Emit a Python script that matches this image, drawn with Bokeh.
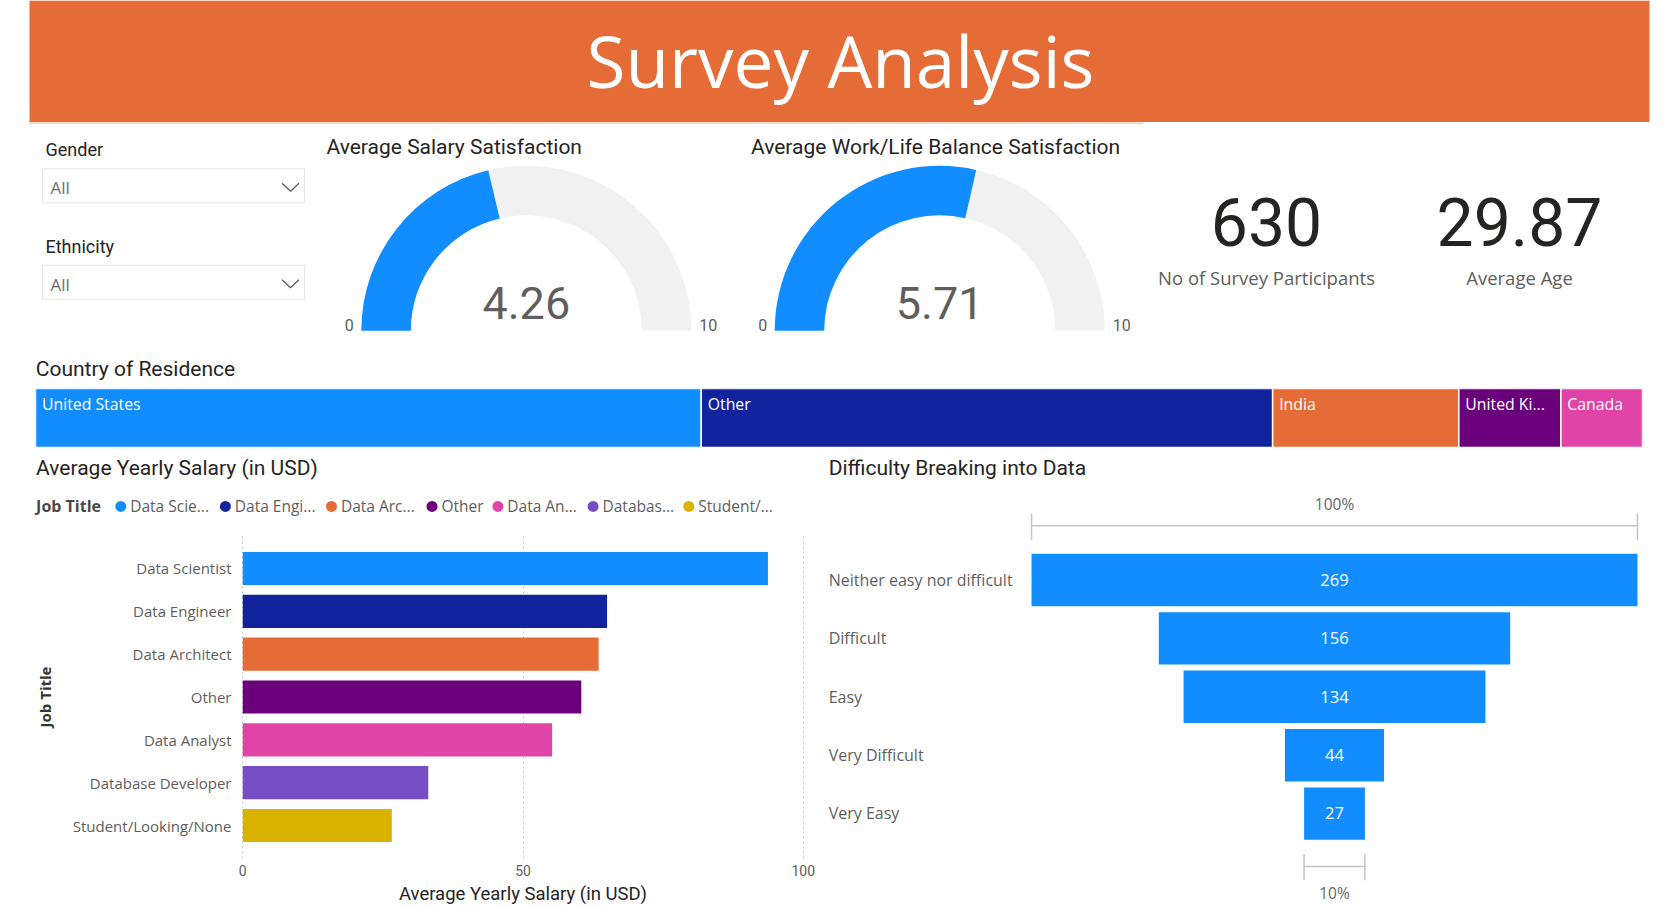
import math

from bokeh.core.properties import value
from bokeh.embed import file_html
from bokeh.layouts import column, row
from bokeh.models import FactorRange, Range1d
from bokeh.plotting import figure
from bokeh.resources import INLINE

# ---------------------------------------------------------------- data
slicer_names = ["Gender", "Ethnicity"]
slicer_selection = ["All", "All"]

gauge_titles = ["Average Salary Satisfaction", "Average Work/Life Balance Satisfaction"]
gauge_values = [4.26, 5.71]
gauge_min, gauge_max = 0, 10

kpi_labels = ["No of Survey Participants", "Average Age"]
kpi_values = [630, 29.87]
kpi_formats = ["{:.0f}", "{:.2f}"]

countries = ["United States", "Other", "India", "United Kingdom", "Canada"]
country_counts = [261, 224, 73, 40, 32]
country_tile_labels = ["United States", "Other", "India", "United Ki...", "Canada"]

job_titles = ["Data Scientist", "Data Engineer", "Data Architect", "Other",
              "Data Analyst", "Database Developer", "Student/Looking/None"]
avg_salary = [93.7, 65.0, 63.5, 60.4, 55.2, 33.1, 26.6]
job_legend_labels = ["Data Scie...", "Data Engi...", "Data Arc...", "Other",
                     "Data An...", "Databas...", "Student/..."]
salary_ticks = [0, 50, 100]

difficulty = ["Neither easy nor difficult", "Difficult", "Easy", "Very Difficult", "Very Easy"]
difficulty_counts = [269, 156, 134, 44, 27]

# ---------------------------------------------------------------- styles
BLUE, NAVY, ORANGE, PURPLE, PINK, VIOLET, GOLD = (
    "#118DFF", "#12239E", "#E66C37", "#6B007B", "#E044A7", "#744EC2", "#D9B300")
PALETTE = [BLUE, NAVY, ORANGE, PURPLE, PINK, VIOLET, GOLD]
GAUGE_BG = "#F1F1F1"
DARK = "#252423"
GREY = "#605E5C"
HEAD_FONT = "Roboto"
BODY_FONT = "Open Sans"
TITLE_SIZE = 21
BASE_SHIFT = 0.37   # lifts glyph text so that y is the visual baseline

W = 1675


def lift(size):
    return -BASE_SHIFT * size


def canvas(w, h, y_down=True, **kw):
    p = figure(width=w, height=h, output_backend="svg", toolbar_location=None,
               x_range=Range1d(0, w),
               y_range=Range1d(h, 0) if y_down else Range1d(0, h),
               x_axis_location=None, y_axis_location=None,
               min_border=0, outline_line_color=None,
               background_fill_color="white", border_fill_color="white", **kw)
    p.grid.visible = False
    return p


def label(p, x, y, s, size, color, font=HEAD_FONT, align="left", style="normal"):
    p.text(x=[x], y=[y], text=[s], text_font=value(font), text_font_size=f"{size}px",
           text_color=color, text_align=align, text_baseline="alphabetic",
           text_font_style=style, y_offset=lift(size))


# ---------------------------------------------------------------- banner
header = canvas(W, 124)
header.quad(left=29, right=1649, top=0, bottom=121.5, fill_color=ORANGE, line_color=None)
header.line(x=[29, 1143], y=[122.8, 122.8], line_color="#F6D6C7", line_width=2)
label(header, 840, 86, "Survey Analysis", 71, "white", font=BODY_FONT, align="center")

# ---------------------------------------------------------------- slicers
TOP = 124
slic = canvas(310, 221)
for i, (name, sel) in enumerate(zip(slicer_names, slicer_selection)):
    dy = i * 96.5
    label(slic, 45, 156 - TOP + dy, name, 18, DARK)
    slic.quad(left=42, right=304, top=168.3 - TOP + dy, bottom=202.3 - TOP + dy,
              fill_color="white", line_color="#E6E6E6", line_width=1)
    label(slic, 50, 193.4 - TOP + dy, sel, 17, "#6E6E6E", font=BODY_FONT)
    cy = 186.7 - TOP + dy
    slic.line(x=[281.5, 290, 298.5], y=[cy - 4, cy + 4, cy - 4],
              line_color=GREY, line_width=1.3)


# ---------------------------------------------------------------- gauges
def gauge(width, cx, title, val, title_x):
    p = canvas(width, 221, y_down=False)
    cy, r_in, r_out = 14.7, 115.5, 165
    frac = (val - gauge_min) / (gauge_max - gauge_min)
    split = math.pi * (1 - frac)
    p.annular_wedge(x=cx, y=cy, inner_radius=r_in, outer_radius=r_out,
                    start_angle=0, end_angle=split, fill_color=GAUGE_BG, line_color=None)
    p.annular_wedge(x=cx, y=cy, inner_radius=r_in, outer_radius=r_out,
                    start_angle=split, end_angle=math.pi, fill_color=BLUE, line_color=None)
    label(p, title_x, 190.7, title, TITLE_SIZE, DARK)
    label(p, cx, 25.7, f"{val:.2f}", 45, GREY, align="center")
    label(p, cx - r_out - 12, 14.3, f"{gauge_min}", 16, GREY, align="center")
    label(p, cx + r_out + 17, 14.3, f"{gauge_max}", 16, GREY, align="center")
    return p


g1 = gauge(410, 215.8, gauge_titles[0], gauge_values[0], 16)
g2 = gauge(420, 219.2, gauge_titles[1], gauge_values[1], 30.5)

# ---------------------------------------------------------------- KPI cards
kpi = canvas(535, 221)
for cx, lab, v, fmt in zip([126, 379], kpi_labels, kpi_values, kpi_formats):
    label(kpi, cx, 122, fmt.format(v), 66, DARK, align="center")
    label(kpi, cx, 160, lab, 18.5, GREY, font=BODY_FONT, align="center")

# ---------------------------------------------------------------- country tiles
country_title = canvas(W, 43)
label(country_title, 35.3, 31, "Country of Residence", TITLE_SIZE, DARK)

total = sum(country_counts)
lefts, rights, acc = [], [], 0
for c in country_counts:
    lefts.append(acc)
    acc += c
    rights.append(acc)

tiles = figure(width=W, height=59, output_backend="svg", toolbar_location=None,
               x_range=Range1d(0, total), y_range=Range1d(0, 1),
               x_axis_location=None, y_axis_location=None, outline_line_color=None,
               min_border_left=35, min_border_right=33, min_border_top=0, min_border_bottom=0)
tiles.grid.visible = False
tiles.hbar(y=0.5, height=1, left=lefts, right=rights, fill_color=PALETTE[:len(countries)],
           line_color="white", line_width=1.5)
tiles.text(x=lefts, y=1, text=country_tile_labels, x_offset=6.5, y_offset=21.5 + lift(15.8),
           text_font=value(BODY_FONT), text_font_size="15.8px", text_color="white",
           text_baseline="alphabetic")

# ---------------------------------------------------------------- salary chart
sal_head = canvas(815, 83)
label(sal_head, 35.6, 28.7, "Average Yearly Salary (in USD)", TITLE_SIZE, DARK)
label(sal_head, 35.6, 64.7, "Job Title", 16, "#4A4846", font=BODY_FONT, style="bold")
legend_dot_x = [120.3, 224.9, 331, 431.5, 497.4, 592.6, 688.3]
sal_head.scatter(x=legend_dot_x, y=[58.9] * len(job_titles), size=11,
                 marker="circle", color=PALETTE, line_color=None)
sal_head.text(x=[x + 9.4 for x in legend_dot_x], y=[64.7] * len(job_titles),
              text=job_legend_labels, text_font=value(BODY_FONT), text_font_size="15.5px",
              text_color=GREY, text_baseline="alphabetic", y_offset=lift(15.5))

# x range runs a hair past 0 and 100 so the end gridlines are not clipped
sal = figure(width=815, height=377, output_backend="svg", toolbar_location=None,
             x_range=Range1d(-0.4, 100.4),
             y_range=FactorRange(factors=job_titles[::-1], range_padding=0.54 / 7),
             min_border_left=240, min_border_right=10, min_border_top=5,
             min_border_bottom=47, outline_line_color=None)
sal.hbar(y=job_titles, left=0, right=avg_salary, height=0.773,
         fill_color=PALETTE, line_color=None)
sal.xaxis.ticker = salary_ticks
sal.ygrid.grid_line_color = None
sal.xgrid.grid_line_color = "#C8C6C4"
sal.xgrid.grid_line_dash = "2 3"
sal.xgrid.level = "underlay"
for ax in (sal.xaxis, sal.yaxis):
    ax.axis_line_color = None
    ax.major_tick_line_color = None
    ax.minor_tick_line_color = None
    ax.major_tick_out = 0
    ax.major_tick_in = 0
    ax.major_label_text_color = GREY
sal.xaxis.major_label_text_font = HEAD_FONT
sal.xaxis.major_label_text_font_size = "14px"
sal.xaxis.major_label_standoff = 6
sal.xaxis.axis_label = "Average Yearly Salary (in USD)"
sal.xaxis.axis_label_text_font = HEAD_FONT
sal.xaxis.axis_label_text_font_size = "18.5px"
sal.xaxis.axis_label_text_font_style = "normal"
sal.xaxis.axis_label_text_color = DARK
sal.xaxis.axis_label_standoff = 4
sal.yaxis.major_label_text_font = BODY_FONT
sal.yaxis.major_label_text_font_size = "15px"
sal.yaxis.major_label_standoff = 9
sal.yaxis.axis_label = "Job Title"
sal.yaxis.axis_label_text_font = BODY_FONT
sal.yaxis.axis_label_text_font_size = "15px"
sal.yaxis.axis_label_text_font_style = "bold"
sal.yaxis.axis_label_text_color = "#333333"
sal.yaxis.axis_label_standoff = 15

# ---------------------------------------------------------------- funnel
fun_head = canvas(860, 40)
label(fun_head, 13.2, 28.7, "Difficulty Breaking into Data", TITLE_SIZE, DARK)

rows = list(range(len(difficulty)))
fun_y = Range1d(5.608, -1.584)

fun_lab = figure(width=213, height=420, output_backend="svg", toolbar_location=None,
                 x_range=Range1d(0, 213), y_range=fun_y,
                 x_axis_location=None, y_axis_location=None, outline_line_color=None,
                 min_border=0)
fun_lab.grid.visible = False
fun_lab.text(x=[13.2] * len(difficulty), y=rows, text=difficulty, y_offset=5.7 + lift(16),
             text_font=value(BODY_FONT), text_font_size="16px", text_color=GREY,
             text_baseline="alphabetic")

top = max(difficulty_counts)
low = min(difficulty_counts)
fun = figure(width=647, height=420, output_backend="svg", toolbar_location=None,
             x_range=Range1d(-0.505 * top, 0.505 * top), y_range=fun_y,
             x_axis_location=None, y_axis_location=None, outline_line_color=None,
             min_border_left=0, min_border_right=35, min_border_top=0, min_border_bottom=0)
fun.grid.visible = False
fun.hbar(y=rows, left=[-c / 2 for c in difficulty_counts],
         right=[c / 2 for c in difficulty_counts], height=0.897,
         fill_color=BLUE, line_color=None)
fun.text(x=[0] * len(rows), y=rows, text=[str(c) for c in difficulty_counts],
         y_offset=6 + lift(16.5),
         text_font=value(BODY_FONT), text_font_size="16.5px", text_color="white",
         text_align="center", text_baseline="alphabetic")

BRACKET = "#C4C4C4"
for span, line_y, t0, t1, text_y in [(top, -0.927, -1.14, -0.68, -1.21),
                                     (low, 4.906, 4.69, 5.14, 5.46)]:
    fun.segment(x0=[-span / 2, -span / 2, span / 2], y0=[line_y, t0, t0],
                x1=[span / 2, -span / 2, span / 2], y1=[line_y, t1, t1],
                line_color=BRACKET, line_width=1.5)
    label(fun, 0, text_y, f"{round(span / top * 100)}%", 15.5, "#666666",
          font=BODY_FONT, align="center")

# ---------------------------------------------------------------- page
# each plot sits in its own row so the column keeps their frames independent
page = column(
    row(header),
    row(slic, g1, g2, kpi),
    row(country_title),
    row(tiles),
    row(column(row(sal_head), row(sal)), column(row(fun_head), row(fun_lab, fun))),
)

open("out.html", "w").write(file_html(page, INLINE, title="Survey Analysis"))
